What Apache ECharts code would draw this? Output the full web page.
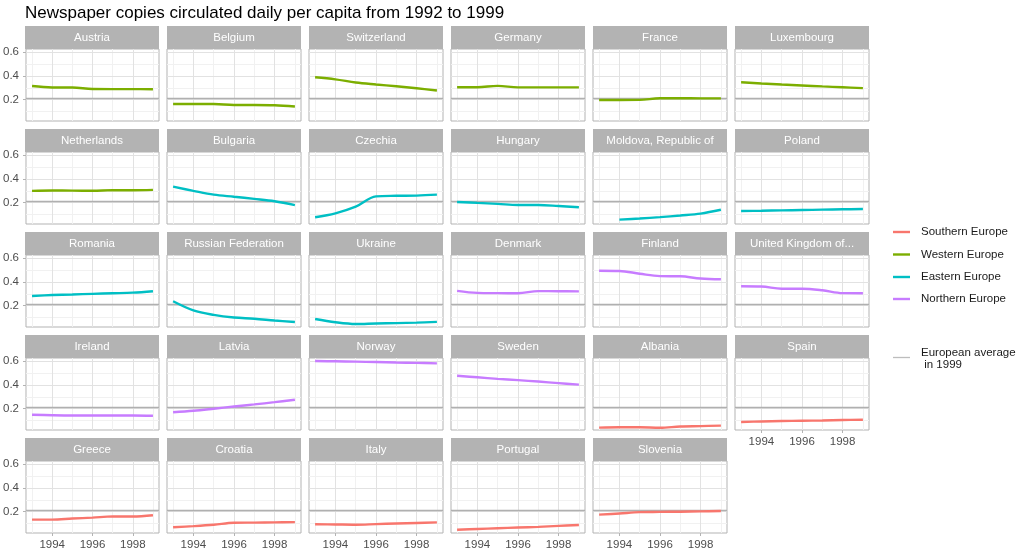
<!DOCTYPE html>
<html><head><meta charset="utf-8">
<script src="https://cdn.jsdelivr.net/npm/echarts@6/dist/echarts.min.js"></script>
<style>html,body{margin:0;padding:0;background:#fff}#c{width:1024px;height:554px}</style>
</head><body><div id="c"></div><script>
// ---------- data ----------
const years = [1993, 1994, 1995, 1996, 1997, 1998, 1999];
const countries = [
  'Austria','Belgium','Switzerland','Germany','France','Luxembourg',
  'Netherlands','Bulgaria','Czechia','Hungary','Moldova, Republic of','Poland',
  'Romania','Russian Federation','Ukraine','Denmark','Finland','United Kingdom of...',
  'Ireland','Latvia','Norway','Sweden','Albania','Spain',
  'Greece','Croatia','Italy','Portugal','Slovenia'
];
const regionNames = ['Southern Europe','Western Europe','Eastern Europe','Northern Europe'];
const regionColors = ['#F8766D','#7CAE00','#00BFC4','#C77CFF'];
const countryRegion = [
  1,1,1,1,1,1,
  1,2,2,2,2,2,
  2,2,2,3,3,3,
  3,3,3,3,0,0,
  0,0,0,0,0
];
const europeanAverage1999 = 0.208;
const averageLabel = 'European average\n in 1999';
const yTicks = [0.2, 0.4, 0.6];
const yMinorTicks = [0.1, 0.3, 0.5];
const xTicks = [1994, 1996, 1998];
const xMinorTicks = [1993, 1995, 1997, 1999];
const titleText = 'Newspaper copies circulated daily per capita from 1992 to 1999';

const vAustria     = [0.315,0.303,0.303,0.290,0.289,0.289,0.288];
const vBelgium     = [0.163,0.163,0.163,0.155,0.155,0.153,0.143];
const vSwitzerland = [0.389,0.372,0.345,0.328,0.313,0.296,0.277];
const vGermany     = [0.305,0.305,0.317,0.304,0.304,0.304,0.304];
const vFrance      = [0.197,0.197,0.198,0.212,0.212,0.211,0.211];
const vLuxembourg  = [0.347,0.337,0.328,0.320,0.312,0.305,0.298];
const vNetherlands = [0.300,0.303,0.302,0.301,0.306,0.305,0.308];
const vBulgaria    = [0.335,0.300,0.268,0.250,0.232,0.212,0.180];
const vCzechia     = [0.077,0.110,0.166,0.253,0.258,0.260,0.268];
const vHungary     = [0.206,0.198,0.190,0.180,0.181,0.172,0.161];
const vMoldova     = [null,0.057,0.066,0.078,0.092,0.108,0.140];
const vPoland      = [0.130,0.132,0.135,0.138,0.141,0.144,0.147];
const vRomania     = [0.282,0.290,0.295,0.300,0.305,0.310,0.322];
const vRussia      = [0.237,0.160,0.122,0.100,0.090,0.075,0.062];
const vUkraine     = [0.088,0.060,0.045,0.050,0.053,0.057,0.063];
const vDenmark     = [0.325,0.308,0.306,0.305,0.323,0.322,0.321];
const vFinland     = [0.495,0.493,0.470,0.450,0.448,0.430,0.423];
const vUK          = [0.364,0.362,0.343,0.343,0.330,0.306,0.305];
const vIreland     = [0.149,0.145,0.143,0.143,0.142,0.142,0.140];
const vLatvia      = [0.170,0.183,0.200,0.218,0.236,0.255,0.276];
const vNorway      = [0.603,0.600,0.597,0.594,0.590,0.587,0.583];
const vSweden      = [0.478,0.465,0.452,0.441,0.429,0.416,0.403];
const vAlbania     = [0.040,0.043,0.043,0.039,0.050,0.053,0.057];
const vSpain       = [0.088,0.092,0.096,0.098,0.100,0.104,0.107];
const vGreece      = [0.133,0.133,0.142,0.150,0.160,0.159,0.170];
const vCroatia     = [0.068,0.078,0.090,0.106,0.108,0.110,0.112];
const vItaly       = [0.094,0.092,0.090,0.095,0.100,0.105,0.110];
const vPortugal    = [0.048,0.054,0.060,0.066,0.072,0.080,0.088];
const vSlovenia    = [0.175,0.185,0.196,0.198,0.200,0.203,0.206];

const countryValues = [
  vAustria,vBelgium,vSwitzerland,vGermany,vFrance,vLuxembourg,
  vNetherlands,vBulgaria,vCzechia,vHungary,vMoldova,vPoland,
  vRomania,vRussia,vUkraine,vDenmark,vFinland,vUK,
  vIreland,vLatvia,vNorway,vSweden,vAlbania,vSpain,
  vGreece,vCroatia,vItaly,vPortugal,vSlovenia
];

// ---------- layout / style ----------
const FONT = '"Liberation Sans", Arial, Helvetica, sans-serif';
const NCOL = 6, X0 = 25, Y0 = 26, PITCH_X = 142, PITCH_Y = 103, PW = 134, STRIP = 23, PH = 72;
const Y_MIN = 0.02, Y_MAX = 0.628, X_MIN = 1992.7, X_MAX = 1999.3;
const BORDER = '#b3b3b3';
const majorStyle = {color: '#e2e2e2', width: 1, type: 'solid'};
const minorStyle = {color: '#f1f1f1', width: 1, type: 'solid'};
const avgStyle = {color: '#b0b0b0', width: 1.3, type: 'solid'};

const grids = [], xAxes = [], yAxes = [], series = [], graphics = [];
const n = countries.length;

countries.forEach((name, i) => {
  const c = i % NCOL, r = Math.floor(i / NCOL);
  const left = X0 + c * PITCH_X, stripTop = Y0 + r * PITCH_Y, top = stripTop + STRIP;
  const hasX = (r === 4) || (r === 3 && (i + NCOL) >= n);
  const hasY = c === 0;
  grids.push({left: left, top: top, width: PW, height: PH, show: true,
    borderColor: BORDER, borderWidth: 1, backgroundColor: '#fff', containLabel: false});
  xAxes.push({gridIndex: i, type: 'value', min: X_MIN, max: X_MAX,
    splitLine: {show: false}, axisLine: {show: false},
    axisTick: {show: hasX, customValues: xTicks, length: 3, lineStyle: {color: BORDER}},
    axisLabel: {show: hasX, customValues: xTicks, margin: 6, color: '#4d4d4d', fontSize: 11.5, fontFamily: FONT,
      formatter: v => String(v)}});
  yAxes.push({gridIndex: i, type: 'value', min: Y_MIN, max: Y_MAX,
    splitLine: {show: false}, axisLine: {show: false},
    axisTick: {show: hasY, customValues: yTicks, length: 3, lineStyle: {color: BORDER}},
    axisLabel: {show: hasY, customValues: yTicks, margin: 7, color: '#4d4d4d', fontSize: 11.5, fontFamily: FONT,
      formatter: v => v.toFixed(1)}});

  const mlData = [];
  yMinorTicks.forEach(v => mlData.push({yAxis: v, lineStyle: minorStyle}));
  xMinorTicks.forEach(v => mlData.push({xAxis: v, lineStyle: minorStyle}));
  yTicks.forEach(v => mlData.push({yAxis: v, lineStyle: majorStyle}));
  xTicks.forEach(v => mlData.push({xAxis: v, lineStyle: majorStyle}));
  mlData.push({yAxis: europeanAverage1999, lineStyle: avgStyle});
  series.push({type: 'line', xAxisIndex: i, yAxisIndex: i, data: [], silent: true, z: 1,
    markLine: {silent: true, symbol: 'none', label: {show: false}, animation: false, z: 1,
      emphasis: {disabled: true}, data: mlData}});

  const col = regionColors[countryRegion[i]];
  const vals = countryValues[i];
  series.push({type: 'line', name: name, xAxisIndex: i, yAxisIndex: i, z: 3,
    data: years.map((y, k) => [y, vals[k]]).filter(d => d[1] !== null),
    smooth: 0.35, symbol: 'none', showSymbol: false,
    lineStyle: {color: col, width: 2.4}, itemStyle: {color: col}});

  graphics.push({type: 'rect', shape: {x: left, y: stripTop, width: PW, height: STRIP},
    style: {fill: '#b3b3b3'}, silent: true});
  graphics.push({type: 'text', x: left + PW / 2, y: stripTop + STRIP / 2 + 0.5, silent: true,
    style: {text: name, fill: '#ffffff', font: '11.5px ' + FONT, align: 'center', verticalAlign: 'middle'}});
});

// legend
const LEG_Y = [232, 254.5, 277, 299];
regionNames.forEach((nm, k) => {
  graphics.push({type: 'line', shape: {x1: 893, y1: LEG_Y[k], x2: 910, y2: LEG_Y[k]},
    style: {stroke: regionColors[k], lineWidth: 2.4}, silent: true});
  graphics.push({type: 'text', x: 921, y: LEG_Y[k], silent: true,
    style: {text: nm, fill: '#1a1a1a', font: '11.5px ' + FONT, align: 'left', verticalAlign: 'middle'}});
});
graphics.push({type: 'line', shape: {x1: 893, y1: 357.5, x2: 910, y2: 357.5},
  style: {stroke: '#bdbdbd', lineWidth: 1.3}, silent: true});
graphics.push({type: 'text', x: 921, y: 358.5, silent: true,
  style: {text: averageLabel, fill: '#1a1a1a', font: '11.5px ' + FONT, lineHeight: 12, align: 'left', verticalAlign: 'middle'}});

const chart = echarts.init(document.getElementById('c'), null, {renderer: 'canvas'});
chart.setOption({
  animation: false,
  backgroundColor: '#ffffff',
  title: {text: titleText, left: 20, top: 0, textStyle: {fontSize: 17, fontWeight: 'normal', color: '#000', fontFamily: FONT}},
  grid: grids, xAxis: xAxes, yAxis: yAxes, series: series, graphic: graphics
});
</script></body></html>
